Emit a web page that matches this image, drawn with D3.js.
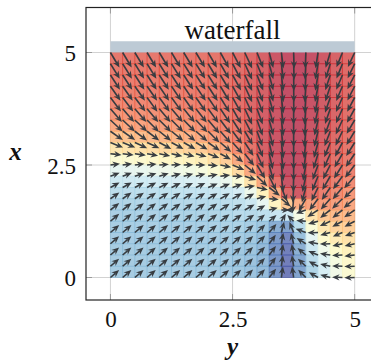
<!DOCTYPE html>
<html>
<head>
<meta charset="utf-8">
<script src="https://cdn.jsdelivr.net/npm/d3@7"></script>
<style>
  html, body { margin: 0; background: #fff; }
  svg { display: block; }
</style>
</head>
<body>
<svg id="chart"></svg>
<script>
// grid points of the field (x = "y" axis label, y = "x" axis label)
const gridX = [0, 0.25, 0.5, 0.75, 1, 1.25, 1.5, 1.75, 2, 2.25, 2.5, 2.75, 3, 3.25, 3.5, 3.75, 4, 4.25, 4.5, 4.75, 5];
const gridY = [5, 4.75, 4.5, 4.25, 4, 3.75, 3.5, 3.25, 3, 2.75, 2.5, 2.25, 2, 1.75, 1.5, 1.25, 1, 0.75, 0.5, 0.25, 0];

// arrow direction in degrees (0 = right, 90 = up), one row per gridY value
const angles = [
  [-59,-59,-59,-59,-59,-59,-59,-59,-60,-61,-62,-65,-68,-75,-83,-88,-92,-99,-107,-112,-115],
  [-58,-58,-58,-58,-58,-58,-58,-58,-59,-60,-62,-65,-68,-75,-83,-88,-93,-100,-107,-112,-116],
  [-57,-57,-57,-57,-57,-57,-57,-57,-58,-59,-61,-65,-68,-75,-83,-89,-93,-100,-108,-113,-117],
  [-55,-55,-55,-55,-56,-56,-56,-56,-57,-59,-61,-65,-69,-75,-83,-89,-94,-101,-108,-113,-117],
  [-53,-53,-53,-54,-54,-54,-55,-55,-56,-58,-61,-65,-69,-75,-83,-89,-94,-101,-109,-114,-118],
  [-49,-49,-49,-50,-50,-50,-51,-52,-54,-56,-60,-65,-70,-75,-83,-90,-95,-102,-109,-114,-119],
  [-43,-43,-43,-45,-45,-45,-46,-47,-50,-53,-57,-63,-70,-75,-83,-90,-95,-103,-110,-115,-120],
  [-35,-35,-37,-37,-39,-39,-40,-41,-45,-49,-53,-60,-70,-76,-83,-90,-96,-104,-111,-116,-121],
  [-22,-22,-25,-25,-28,-28,-30,-31,-35,-41,-48,-57,-68,-77,-83,-90,-97,-105,-112,-118,-122],
  [-6,-7,-8,-10,-11,-13,-14,-16,-21,-28,-39,-52,-66,-77,-83,-90,-98,-107,-114,-120,-124],
  [8,8,7,6,4,3,1,0,-5,-12,-23,-39,-59,-75,-83,-90,-100,-110,-117,-122,-127],
  [21,20,19,18,17,16,15,14,11,7,0,-18,-44,-64,-83,-91,-102,-112,-120,-126,-131],
  [29,29,28,28,27,26,26,25,23,21,19,10,-12,-38,-68,-93,-105,-116,-124,-130,-135],
  [35,35,34,34,33,33,32,32,31,30,30,29,15,-5,-40,-95,-120,-127,-131,-136,-140],
  [38,38,37,37,37,36,36,36,35,34,32,29,30,15,0,180,-160,-147,-142,-142,-145],
  [40,40,40,39,39,39,39,39,38,37,36,35,40,40,60,135,175,-165,-155,-152,-152],
  [40,40,40,40,40,40,40,40,40,39,39,40,44,50,76,112,160,-178,-165,-158,-160],
  [41,41,41,41,41,41,41,41,41,41,42,43,45,54,80,104,148,170,-178,-168,-167],
  [41,41,41,41,41,41,41,41,41,41,42,44,46,53,81,100,140,158,172,-177,-173],
  [41,41,41,41,41,41,41,41,41,41,42,44,46,53,82,99,137,152,167,178,-178],
  [41,41,41,41,41,41,41,41,41,41,42,44,46,52,82,98,135,150,165,178,-178]
];

// arrow magnitude (relative), same layout as angles
const magnitude = [
  [1.1,1.1,1.1,1.1,1.1,1.1,1.1,1.1,1.1,1.1,1.1,1.1,1.05,1,1,1,1,1,1,1,1],
  [1.1,1.1,1.1,1.1,1.1,1.1,1.1,1.1,1.1,1.1,1.1,1.1,1.05,1,1,1,1,1,1,1,1],
  [1.1,1.1,1.1,1.1,1.1,1.1,1.1,1.1,1.1,1.1,1.1,1.1,1.05,1,1,1,1,1,1,1,1],
  [1.1,1.1,1.1,1.1,1.1,1.1,1.1,1.1,1.1,1.1,1.1,1.1,1.05,1,1,1,1,1,1,1,1],
  [1.1,1.1,1.1,1.1,1.1,1.1,1.1,1.1,1.1,1.1,1.1,1.1,1.05,1,1,1,1,1,1,1,1],
  [1.1,1.1,1.1,1.1,1.1,1.1,1.1,1.1,1.1,1.1,1.1,1.1,1.05,1,1,1,1,1,1,1,1],
  [1.05,1.05,1.05,1.05,1.05,1.05,1.05,1.05,1.1,1.1,1.1,1.1,1.05,1,1,1,1,1,1,1,1],
  [0.95,0.95,0.95,0.95,0.95,0.95,0.95,0.95,1,1,1,1,1,1,1,1,1,1,1,1,1],
  [0.85,0.85,0.85,0.85,0.85,0.85,0.85,0.85,0.9,0.9,0.95,1,1,1,1,1,1,1,1,1,1],
  [0.7,0.7,0.7,0.7,0.7,0.7,0.7,0.7,0.75,0.75,0.85,0.95,1,1,1,1,1,1,1,1,1],
  [0.6,0.6,0.6,0.6,0.6,0.6,0.6,0.6,0.62,0.7,0.8,0.9,1,1,1,1,1,1,1,1,1],
  [0.62,0.62,0.62,0.62,0.62,0.62,0.62,0.62,0.62,0.62,0.65,0.75,0.9,1,1,1,1,1,1,1,1],
  [0.65,0.65,0.65,0.65,0.65,0.65,0.65,0.65,0.65,0.65,0.65,0.65,0.7,0.85,0.95,0.95,0.95,0.95,0.95,0.95,0.95],
  [0.68,0.68,0.68,0.68,0.68,0.68,0.68,0.68,0.68,0.68,0.68,0.68,0.6,0.6,0.75,0.9,0.9,0.9,0.9,0.9,0.9],
  [0.7,0.7,0.7,0.7,0.7,0.7,0.7,0.7,0.7,0.7,0.7,0.7,0.6,0.55,0.5,0.5,0.65,0.8,0.8,0.8,0.8],
  [0.72,0.72,0.72,0.72,0.72,0.72,0.72,0.72,0.72,0.72,0.72,0.72,0.65,0.6,0.55,0.55,0.6,0.65,0.72,0.72,0.72],
  [0.72,0.72,0.72,0.72,0.72,0.72,0.72,0.72,0.72,0.72,0.72,0.72,0.72,0.7,0.7,0.7,0.68,0.66,0.65,0.65,0.65],
  [0.72,0.72,0.72,0.72,0.72,0.72,0.72,0.72,0.72,0.72,0.72,0.72,0.72,0.7,0.7,0.7,0.68,0.66,0.65,0.65,0.65],
  [0.72,0.72,0.72,0.72,0.72,0.72,0.72,0.72,0.72,0.72,0.72,0.72,0.72,0.7,0.7,0.7,0.68,0.66,0.65,0.65,0.65],
  [0.72,0.72,0.72,0.72,0.72,0.72,0.72,0.72,0.72,0.72,0.72,0.72,0.72,0.7,0.7,0.7,0.68,0.66,0.65,0.65,0.65],
  [0.72,0.72,0.72,0.72,0.72,0.72,0.72,0.72,0.72,0.72,0.72,0.72,0.72,0.7,0.7,0.7,0.68,0.66,0.65,0.65,0.65]
];

const xTicks = [0, 2.5, 5];
const yTicks = [0, 2.5, 5];
const titleText = "waterfall";
const titleBand = [5, 5.25];
const xLabel = "y";
const yLabel = "x";

const W = 371, H = 362;
const serif = "'Liberation Serif', 'DejaVu Serif', serif";

const svg = d3.select("#chart").attr("width", W).attr("height", H);

const x = d3.scaleLinear().domain([-0.5, 5.5]).range([86, 379.1]);
const y = d3.scaleLinear().domain([-0.5, 6]).range([300, 7.5]);

// colour from the vertical part of the direction (down = red, up = blue)
function tone(a) {
  const s = Math.sin(a * Math.PI / 180);
  const lin = Math.asin(s) / (Math.PI / 2);
  return 0.5 + 0.25 * (s + lin);
}

// grid
const grid = svg.append("g").attr("stroke", "#d2d2d2").attr("stroke-width", 1);
grid.selectAll("line.gx").data(xTicks).join("line").attr("class", "gx")
  .attr("x1", d => x(d)).attr("x2", d => x(d))
  .attr("y1", y.range()[1]).attr("y2", y.range()[0]);
grid.selectAll("line.gy").data(yTicks).join("line").attr("class", "gy")
  .attr("y1", d => y(d)).attr("y2", d => y(d))
  .attr("x1", x.range()[0]).attr("x2", x.range()[1]);

// cells (mean colour of the four corner arrows)
const cells = [];
for (let r = 0; r < gridY.length - 1; r++) {
  for (let c = 0; c < gridX.length - 1; c++) {
    const t = (tone(angles[r][c]) + tone(angles[r][c + 1]) +
               tone(angles[r + 1][c]) + tone(angles[r + 1][c + 1])) / 4;
    cells.push({ x0: gridX[c], x1: gridX[c + 1], y0: gridY[r + 1], y1: gridY[r], t });
  }
}
svg.append("g").selectAll("rect").data(cells).join("rect")
  .attr("x", d => x(d.x0) - 0.5)
  .attr("y", d => y(d.y1) - 0.5)
  .attr("width", d => x(d.x1) - x(d.x0) + 1)
  .attr("height", d => y(d.y0) - y(d.y1) + 1)
  .attr("fill", d => d3.interpolateRdYlBu(d.t))
  .attr("fill-opacity", 0.7);

// title band
svg.append("rect")
  .attr("x", x(0)).attr("width", x(5) - x(0))
  .attr("y", y(titleBand[1])).attr("height", y(titleBand[0]) - y(titleBand[1]))
  .attr("fill", "#bdcad5");

svg.append("text")
  .attr("x", x(2.5)).attr("y", 39)
  .attr("text-anchor", "middle")
  .attr("font-family", serif).attr("font-size", 27)
  .attr("fill", "#111")
  .text(titleText);

// arrows
const arrows = [];
gridY.forEach((gy, r) => gridX.forEach((gx, c) => {
  arrows.push({ gx, gy, a: angles[r][c], m: magnitude[r][c] });
}));

const unit = 16, headLen = 7.5, headHalf = 3.2;
const arrowG = svg.append("g").attr("fill", "#373c41").attr("stroke", "#373c41");
arrows.forEach(d => {
  const rad = d.a * Math.PI / 180;
  const ux = Math.cos(rad), uy = -Math.sin(rad);
  const len = d.m * unit;
  const x0 = x(d.gx), y0 = y(d.gy);
  const x1 = x0 + ux * len, y1 = y0 + uy * len;
  const bx = x1 - ux * headLen, by = y1 - uy * headLen;
  const nx = x1 - ux * headLen * 0.68, ny = y1 - uy * headLen * 0.68;
  arrowG.append("line")
    .attr("x1", x0).attr("y1", y0).attr("x2", nx).attr("y2", ny)
    .attr("stroke-width", 1.6);
  arrowG.append("path")
    .attr("stroke", "none")
    .attr("d", `M${x1},${y1}L${bx - uy * headHalf},${by + ux * headHalf}L${nx},${ny}L${bx + uy * headHalf},${by - ux * headHalf}Z`);
});

// ticks
const tickLen = 6;
const ticks = svg.append("g").attr("stroke", "#9a9a9a").attr("stroke-width", 1);
xTicks.forEach(t => {
  ticks.append("line").attr("x1", x(t)).attr("x2", x(t)).attr("y1", y.range()[0]).attr("y2", y.range()[0] - tickLen);
  ticks.append("line").attr("x1", x(t)).attr("x2", x(t)).attr("y1", y.range()[1]).attr("y2", y.range()[1] + tickLen);
});
yTicks.forEach(t => {
  ticks.append("line").attr("y1", y(t)).attr("y2", y(t)).attr("x1", x.range()[0]).attr("x2", x.range()[0] + tickLen);
  ticks.append("line").attr("y1", y(t)).attr("y2", y(t)).attr("x1", x.range()[1]).attr("x2", x.range()[1] - tickLen);
});

// frame
svg.append("rect")
  .attr("x", x.range()[0]).attr("y", y.range()[1])
  .attr("width", x.range()[1] - x.range()[0]).attr("height", y.range()[0] - y.range()[1])
  .attr("fill", "none").attr("stroke", "#222").attr("stroke-width", 1.2);

// tick labels via axes
const fmt = d => (d === 2.5 ? "2.5" : String(d));
const xAxis = svg.append("g").attr("transform", `translate(0,${y.range()[0]})`)
  .call(d3.axisBottom(x).tickValues(xTicks).tickFormat(fmt).tickSize(0));
xAxis.select(".domain").remove();
xAxis.selectAll("text").attr("y", 27).attr("dy", null)
  .attr("font-family", serif).attr("font-size", 23).attr("fill", "#111");

const yAxis = svg.append("g").attr("transform", `translate(${x.range()[0]},0)`)
  .call(d3.axisLeft(y).tickValues(yTicks).tickFormat(fmt).tickSize(0));
yAxis.select(".domain").remove();
yAxis.selectAll("text").attr("x", -10).attr("dy", "0.35em")
  .attr("font-family", serif).attr("font-size", 23).attr("fill", "#111");

// axis titles
svg.append("text").attr("x", x(2.5)).attr("y", 355)
  .attr("text-anchor", "middle").attr("font-family", serif)
  .attr("font-weight", "bold").attr("font-style", "italic").attr("font-size", 25)
  .attr("fill", "#111").text(xLabel);
svg.append("text").attr("x", 15.5).attr("y", 160)
  .attr("text-anchor", "middle").attr("font-family", serif)
  .attr("font-weight", "bold").attr("font-style", "italic").attr("font-size", 25)
  .attr("fill", "#111").text(yLabel);
</script>
</body>
</html>
